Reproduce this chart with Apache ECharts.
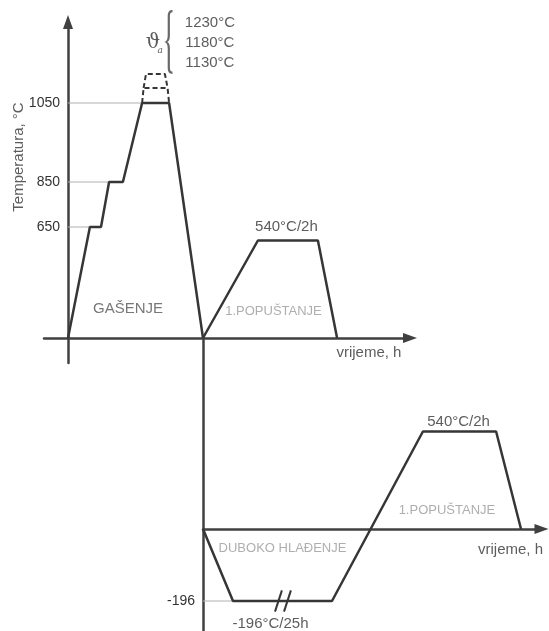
<!DOCTYPE html>
<html><head><meta charset="utf-8">
<script src="https://cdn.jsdelivr.net/npm/echarts@6/dist/echarts.min.js"></script>
<style>html,body{margin:0;padding:0;background:#fff}#c{width:549px;height:631px}</style>
</head><body><div id="c"></div><script>
// ---------- DATA (time in h, schematic; temperature in °C) ----------
// upper diagram: hardening (gašenje) with step preheating + 1st tempering
const quenchTime = [0, 0.73, 1.1, 1.37, 1.83, 2.47, 3.37, 4.5];
const quenchTemp = [0, 650, 650, 850, 850, 1050, 1050, 0];
// dashed alternative austenitizing temperatures
const austLowTime = [2.47, 2.52, 3.32, 3.37];
const austLowTemp = [1050, 1130, 1130, 1050];
const austHighTime = [2.52, 2.6, 3.23, 3.32];
const austHighTemp = [1130, 1180, 1180, 1130];
const temperTopTime = [4.5, 6.33, 8.33, 8.97];
const temperTopTemp = [0, 540, 540, 0];
const topTickTemps = [650, 850, 1050];
const austenTempLabels = ['1230°C', '1180°C', '1130°C'];
// lower diagram: deep cryogenic cooling + 1st tempering
const cryoTime = [0, 1, 4.3, 7.33, 9.77, 10.6];
const cryoTemp = [0, -196, -196, 540, 540, 0];
const bottomTickTemps = [-196];
const breakTime = [[2.4, 2.63], [2.7, 2.93]];
const breakTemp = [-225, -167];

// ---------- schematic (non-linear) temperature scale ----------
const scaleT = [-196, 0, 540, 650, 850, 1050, 1130, 1180];
const scaleL = [-72, 0, 97.5, 111, 156, 235, 250, 264];
function lvl(t) {
  let i = 0;
  while (i < scaleT.length - 2 && t > scaleT[i + 1]) i++;
  const f = (t - scaleT[i]) / (scaleT[i + 1] - scaleT[i]);
  return scaleL[i] + f * (scaleL[i + 1] - scaleL[i]);
}
function tempOf(l) {
  let best = scaleT[0], d = 1e9;
  scaleT.forEach(t => { const dd = Math.abs(lvl(t) - l); if (dd < d) { d = dd; best = t; } });
  return best;
}
const pts = (times, temps) => times.map((x, i) => [x, lvl(temps[i])]);

const INK = '#363636';
const AX = '#404040';
const FONT = 'Liberation Sans';

function lineSeries(g, data, style) {
  return Object.assign({
    type: 'line', xAxisIndex: g, yAxisIndex: g, data: data, symbol: 'none',
    silent: true, animation: false, z: 3,
    lineStyle: { color: INK, width: 2.5 }
  }, style || {});
}

const series = [];
// guide lines from axis to curve
topTickTemps.forEach(t => {
  const x = quenchTime[quenchTemp.indexOf(t)];
  series.push(lineSeries(0, [[0, lvl(t)], [x, lvl(t)]], { z: 2, lineStyle: { color: '#b0b0b0', width: 1 } }));
});
bottomTickTemps.forEach(t => {
  const x = cryoTime[cryoTemp.indexOf(t)];
  series.push(lineSeries(1, [[0, lvl(t)], [x, lvl(t)]], { z: 2, lineStyle: { color: '#b0b0b0', width: 1 } }));
});
series.push(lineSeries(0, pts(quenchTime, quenchTemp)));
series.push(lineSeries(0, pts(austLowTime, austLowTemp), { lineStyle: { color: INK, width: 2, type: [5, 3] } }));
series.push(lineSeries(0, pts(austHighTime, austHighTemp), { lineStyle: { color: INK, width: 2, type: [5, 3] } }));
series.push(lineSeries(0, pts(temperTopTime, temperTopTemp)));
series.push(lineSeries(1, pts(cryoTime, cryoTemp)));
breakTime.forEach(bt => {
  series.push(lineSeries(1, [[bt[0], lvl(breakTemp[0])], [bt[1], lvl(breakTemp[1])]], { z: 4, lineStyle: { color: INK, width: 2 } }));
});

// brace
const bracePath = 'path://M20,0 C12,0 8,3 8,10 L8,40 C8,46 5,49 0,50 C5,51 8,54 8,60 L8,90 C8,97 12,100 20,100 L20,96.5 C15,96.5 13.5,94 13.5,90 L13.5,60 C13.5,54 11,51 7,50 C11,49 13.5,46 13.5,40 L13.5,10 C13.5,6 15,3.5 20,3.5 Z';
series.push({
  type: 'scatter', xAxisIndex: 0, yAxisIndex: 0, silent: true, animation: false, clip: false,
  symbol: bracePath, symbolSize: [8, 64], itemStyle: { color: '#444' },
  data: [[3.35, 296]]
});

// text annotations: [grid, x, level, text, style]
const txt = (size, color, extra) => Object.assign({ fontSize: size, color: color, fontFamily: FONT }, extra || {});
const notes = [
  [0, 2.0, 29.5, 'GAŠENJE', txt(15, '#555')],
  [0, 6.85, 26.5, '1.POPUŠTANJE', txt(13, '#9a9a9a')],
  [0, 7.28, 111.5, '540°C/2h', txt(15, '#333')],
  [0, 10.03, -15, 'vrijeme, h', txt(15, '#333')],
  [0, -1.65, 181, 'Temperatura, °C', txt(15, '#333', { rotate: 90 })],
  [0, 2.83, 295, 'ϑ', txt(20, '#333', { fontFamily: 'DejaVu Serif' })],
  [0, 3.07, 287, 'a', txt(9, '#333', { fontStyle: 'italic', fontFamily: 'DejaVu Serif' })],
  [0, 4.73, 315, austenTempLabels[0], txt(15, '#333')],
  [0, 4.73, 295, austenTempLabels[1], txt(15, '#333')],
  [0, 4.73, 275, austenTempLabels[2], txt(15, '#333')],
  [1, 8.52, 107.5, '540°C/2h', txt(15, '#333')],
  [1, 8.13, 19, '1.POPUŠTANJE', txt(13, '#9a9a9a')],
  [1, 2.65, -19.5, 'DUBOKO HLAĐENJE', txt(13, '#9a9a9a')],
  [1, 10.25, -21, 'vrijeme, h', txt(15, '#333')],
  [1, 2.25, -95, '-196°C/25h', txt(15, '#333')]
];
[0, 1].forEach(g => {
  series.push({
    type: 'scatter', xAxisIndex: g, yAxisIndex: g, silent: true, animation: false, clip: false,
    symbolSize: 0, z: 5,
    data: notes.filter(n => n[0] === g).map(n => ({
      value: [n[1], n[2]], name: n[3],
      label: Object.assign({ show: true, position: 'inside', formatter: '{b}', align: 'center', verticalAlign: 'middle' }, n[4])
    }))
  });
});

const axisLine = (sym) => ({ show: true, onZero: true, symbol: sym, symbolSize: [10, 14], lineStyle: { color: AX, width: 2.5 } });

const option = {
  backgroundColor: '#fff',
  animation: false,
  grid: [
    { left: 44, top: 22, width: 366, height: 341, outerBoundsMode: 'none', containLabel: false },
    { left: 203, top: 338, width: 338.5, height: 293, outerBoundsMode: 'none', containLabel: false }
  ],
  xAxis: [
    { type: 'value', gridIndex: 0, min: -0.8, max: 11.4, axisLine: axisLine(['none', 'triangle']),
      axisTick: { show: false }, axisLabel: { show: false }, splitLine: { show: false } },
    { type: 'value', gridIndex: 1, min: 0, max: 11.283, axisLine: axisLine(['none', 'triangle']),
      axisTick: { show: false }, axisLabel: { show: false }, splitLine: { show: false } }
  ],
  yAxis: [
    { type: 'value', gridIndex: 0, min: -25, max: 316, axisLine: axisLine(['none', 'triangle']),
      axisTick: { show: false }, splitLine: { show: false },
      axisLabel: { show: true, customValues: topTickTemps.map(lvl), formatter: v => String(tempOf(v)),
        margin: -16, fontSize: 14, color: '#333', fontFamily: FONT } },
    { type: 'value', gridIndex: 1, min: -102, max: 191, axisLine: axisLine(['none', 'none']),
      axisTick: { show: false }, splitLine: { show: false },
      axisLabel: { show: true, customValues: bottomTickTemps.map(lvl), formatter: v => String(tempOf(v)),
        margin: 8, fontSize: 14, color: '#333', fontFamily: FONT } }
  ],
  series: series
};
const chart = echarts.init(document.getElementById('c'), null, { renderer: 'canvas' });
chart.setOption(option);
</script></body></html>
